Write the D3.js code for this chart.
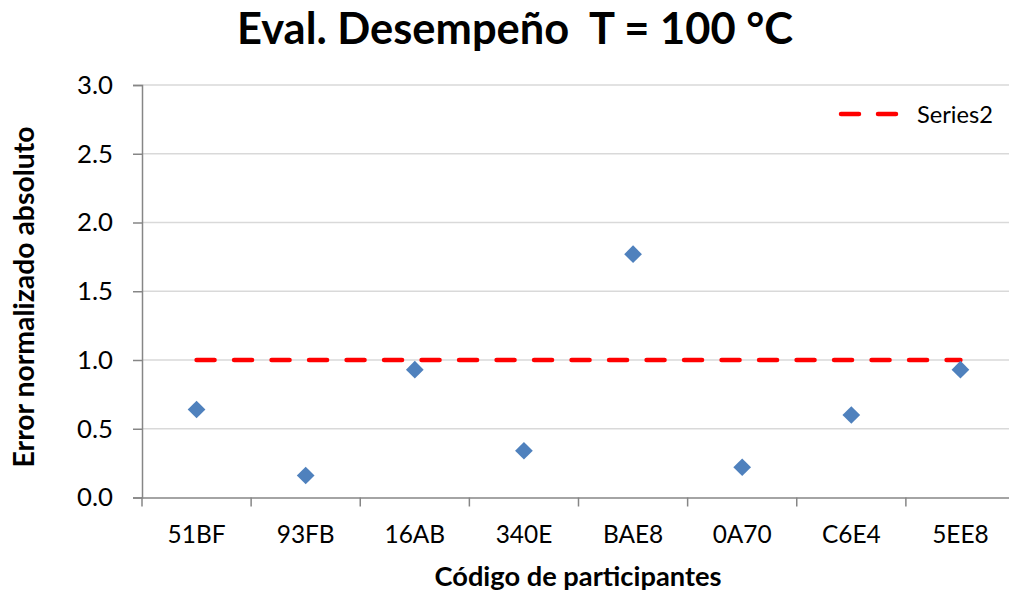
<!DOCTYPE html>
<html><head><meta charset="utf-8">
<script src="https://cdn.jsdelivr.net/npm/d3@7"></script>
<style>body{margin:0;background:#fff}svg{display:block}text{font-family:Lato,"Open Sans",sans-serif;fill:#000;white-space:pre}</style>
</head><body>
<script>
const categories = ["51BF","93FB","16AB","340E","BAE8","0A70","C6E4","5EE8"];
const errorValues = [0.64,0.16,0.93,0.34,1.77,0.22,0.60,0.93];
const limitValues = [1,1,1,1,1,1,1,1];
const yTicks = [0,0.5,1,1.5,2,2.5,3];
const title = "Eval. Desempeño  T = 100 °C";
const xTitle = "Código de participantes";
const yTitle = "Error normalizado absoluto";
const legendLabel = "Series2";

const W=1009,H=596;
const svg=d3.select("body").append("svg").attr("width",W).attr("height",H);
const L=142, R=1015, T=85, B=497.5;
const x=d3.scaleBand().domain(categories).range([L,R]);
const y=d3.scaleLinear().domain([0,3]).range([B,T]);

// fit font size of a selection so the first node's width matches target
function fit(sel, target){
  const n=sel.node(); const fs=parseFloat(getComputedStyle(n).fontSize);
  const w=n.getComputedTextLength();
  sel.style("font-size",(fs*target/w).toFixed(2)+"px");
}

// gridlines
svg.append("g").selectAll("line").data(yTicks.filter(d=>d>0)).join("line")
  .attr("x1",L).attr("x2",R).attr("y1",d=>y(d)).attr("y2",d=>y(d))
  .attr("stroke","#d9d9d9").attr("stroke-width",1.5);

// y axis
const ya=svg.append("g").attr("transform",`translate(${L},0)`)
  .call(d3.axisLeft(y).tickValues(yTicks).tickFormat(d3.format(".1f")).tickSize(9).tickPadding(20));
ya.select(".domain").attr("stroke","#868686").attr("stroke-width",1.5);
ya.selectAll(".tick line").attr("stroke","#868686").attr("stroke-width",1.5);
ya.selectAll("text").style("font-size","22px").style("font-family","Lato,sans-serif");
fit(ya.selectAll("text").filter(d=>d===3), 36);
ya.selectAll("text").style("font-size", ya.selectAll("text").filter(d=>d===3).style("font-size"));

// x axis
const xa=svg.append("g").attr("transform",`translate(0,${B})`)
  .call(d3.axisBottom(x).tickSize(0).tickPadding(28));
xa.select(".domain").attr("stroke","#868686").attr("stroke-width",1.5);
xa.selectAll("text").style("font-size","22px").style("font-family","Lato,sans-serif");
fit(xa.selectAll("text").filter(d=>d==="51BF"), 58);
xa.selectAll("text").style("font-size", xa.selectAll("text").filter(d=>d==="51BF").style("font-size"));
xa.selectAll("line.sep").data(categories).join("line").attr("class","sep")
  .attr("x1",d=>x(d)).attr("x2",d=>x(d)).attr("y1",0).attr("y2",9)
  .attr("stroke","#868686").attr("stroke-width",1.5);

// limit line
const line=d3.line().x((d,i)=>x(categories[i])+x.bandwidth()/2).y(d=>y(d));
svg.append("path").datum(limitValues).attr("d",line).attr("fill","none")
  .attr("stroke","#ff0000").attr("stroke-width",4.5).attr("stroke-dasharray","18,19.5")
  .attr("stroke-linecap","round");

// markers
svg.append("g").selectAll("path").data(errorValues).join("path")
  .attr("transform",(d,i)=>`translate(${x(categories[i])+x.bandwidth()/2},${y(d)})`)
  .attr("d",d3.symbol(d3.symbolDiamond2,200)())
  .attr("fill","#4f81bd");

// titles
const t1=svg.append("text").attr("x",515).attr("y",44).attr("text-anchor","middle")
  .style("font-size","40px").style("font-weight","bold").text(title);
fit(t1,556);
const t2=svg.append("text").attr("x",578).attr("y",586).attr("text-anchor","middle")
  .style("font-size","24px").style("font-weight","bold").text(xTitle);
fit(t2,287);
const t3=svg.append("text").attr("transform","translate(34,297) rotate(-90)").attr("text-anchor","middle")
  .style("font-size","24px").style("font-weight","bold").text(yTitle);
fit(t3,341);

// legend
svg.append("line").attr("x1",841).attr("x2",896).attr("y1",114).attr("y2",114)
  .attr("stroke","#ff0000").attr("stroke-width",4.5).attr("stroke-dasharray","18,19").attr("stroke-linecap","round");
const lt=svg.append("text").attr("x",917).attr("y",123).style("font-size","22px").text(legendLabel);
fit(lt,76);
</script>
</body></html>
